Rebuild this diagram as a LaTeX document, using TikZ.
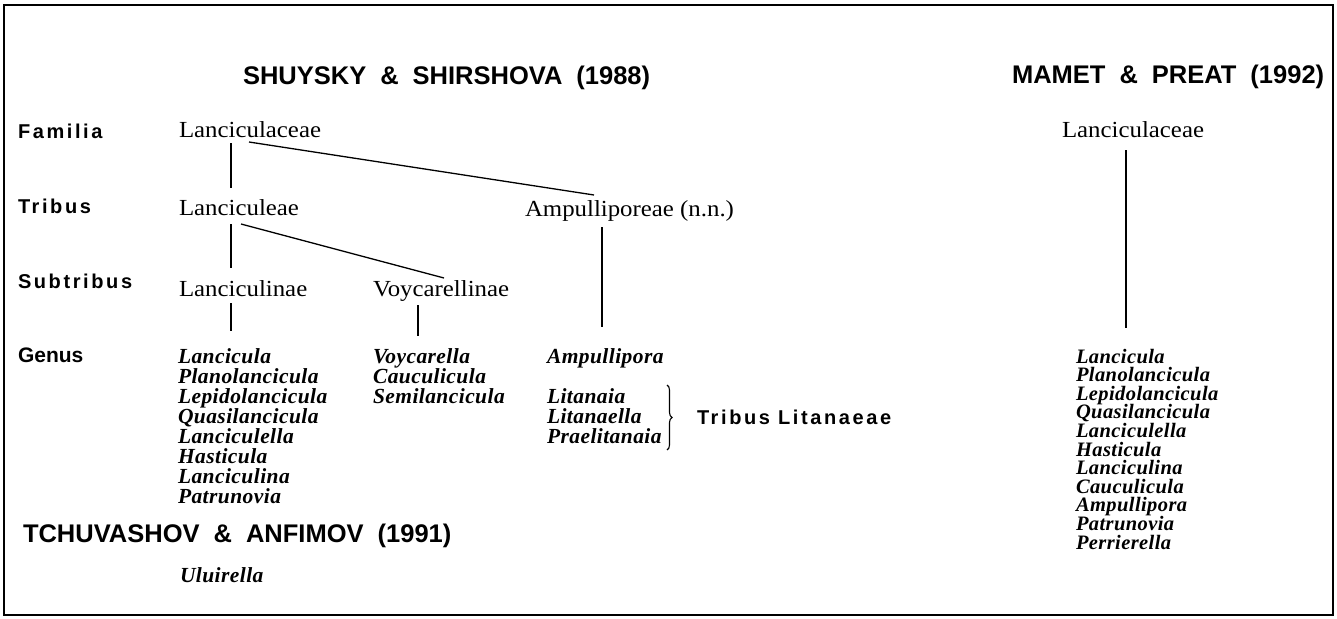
\documentclass[tikz,border=0pt]{standalone}
\usepackage{fontspec}
\setmainfont{Liberation Serif}
\setsansfont{Liberation Sans}
\newfontfamily\romfont[FakeStretch=1.08]{Liberation Serif}
\newfontfamily\labfont[LetterSpace=13]{Liberation Sans}
\newfontfamily\genfont[LetterSpace=2]{Liberation Serif}
\usetikzlibrary{decorations.pathreplacing}
\tikzset{
  txt/.style={anchor=base west, inner sep=0pt, outer sep=0pt},
  headtxt/.style={txt, font=\sffamily\bfseries\fontsize{25.5}{28}\selectfont},
  ranktxt/.style={txt, font=\labfont\bfseries\fontsize{20}{22}\selectfont},
  genushead/.style={txt, font=\sffamily\bfseries\fontsize{21}{24}\selectfont},
  taxon/.style={txt, font=\romfont\fontsize{23}{26}\selectfont},
  genus/.style={txt, font=\genfont\bfseries\itshape\fontsize{21.5}{20}\selectfont},
  genusr/.style={txt, font=\genfont\bfseries\itshape\fontsize{20.5}{19}\selectfont},
  link/.style={line width=1.3pt},
  frame/.style={line width=1.2pt}
}
\newcommand{\gap}{\hspace{0.55em}}
\begin{document}
\begin{tikzpicture}[x=1pt,y=-1pt]
\useasboundingbox (0,0) rectangle (1337,618);
\draw[frame] (4,5) rectangle (1333,615);

% headings
\node[headtxt] (hs) at (243,84) {SHUYSKY\gap\&\gap SHIRSHOVA\gap(1988)};
\node[headtxt] (hm) at (1012,83) {MAMET\gap\&\gap PREAT\gap(1992)};
\node[headtxt] (ht) at (23,542) {TCHUVASHOV\gap\&\gap ANFIMOV\gap(1991)};

% rank labels
\node[ranktxt] (rf) at (18,138) {Familia};
\node[ranktxt] (rt) at (18,213) {Tribus};
\node[ranktxt] (rs) at (18,288) {Subtribus};
\node[genushead] (rg) at (18,362) {Genus};

% taxa
\node[taxon] (fam) at (179,137) {Lanciculaceae};
\node[taxon] (tribl) at (179,215) {Lanciculeae};
\node[taxon] (triba) at (525,216) {Ampulliporeae (n.n.)};
\node[taxon] (subl) at (179,296) {Lanciculinae};
\node[taxon] (subv) at (373,296) {Voycarellinae};
\node[taxon] (famr) at (1062,137) {Lanciculaceae};

% connector end points
\coordinate (a1) at (231,143); \coordinate (a2) at (231,188);
\coordinate (b1) at (249,142); \coordinate (b2) at (594,195);
\coordinate (c1) at (231,224); \coordinate (c2) at (231,268);
\coordinate (d1) at (241,224); \coordinate (d2) at (444,278);
\coordinate (e1) at (231,303); \coordinate (e2) at (231,331);
\coordinate (f1) at (418,305); \coordinate (f2) at (418,336);
\coordinate (g1) at (602,227); \coordinate (g2) at (602,327);
\coordinate (h1) at (1126,150); \coordinate (h2) at (1126,328);
\draw[link] (a1) -- (a2);
\draw[link] (b1) -- (b2);
\draw[link] (c1) -- (c2);
\draw[link] (d1) -- (d2);
\draw[link] (e1) -- (e2);
\draw[link] (f1) -- (f2);
\draw[link] (g1) -- (g2);
\draw[link] (h1) -- (h2);

% genera, left
\foreach \t [count=\i from 0] in {Lancicula,Planolancicula,Lepidolancicula,Quasilancicula,Lanciculella,Hasticula,Lanciculina,Patrunovia}
  \node[genus] (gl\i) at (178,363+20*\i) {\t};
\foreach \t [count=\i from 0] in {Voycarella,Cauculicula,Semilancicula}
  \node[genus] (gv\i) at (373,363+20*\i) {\t};
\node[genus] (ga) at (547,363) {Ampullipora};
\foreach \t [count=\i from 0] in {Litanaia,Litanaella,Praelitanaia}
  \node[genus] (gt\i) at (547,403+20*\i) {\t};
\node[genus] (gu) at (180,582) {Uluirella};
% genera, right
\foreach \t [count=\i from 0] in {Lancicula,Planolancicula,Lepidolancicula,Quasilancicula,Lanciculella,Hasticula,Lanciculina,Cauculicula,Ampullipora,Patrunovia,Perrierella}
  \node[genusr] (gr\i) at (1076,363+18.6*\i) {\t};

% brace
\coordinate (br1) at (667,385); \coordinate (br2) at (667,450);
\draw[line width=1.1pt, decorate, decoration={brace, amplitude=5pt}] (br1) -- (br2);
\node[ranktxt] (tl) at (697,424) {Tribus Litanaeae};
\end{tikzpicture}
\end{document}
